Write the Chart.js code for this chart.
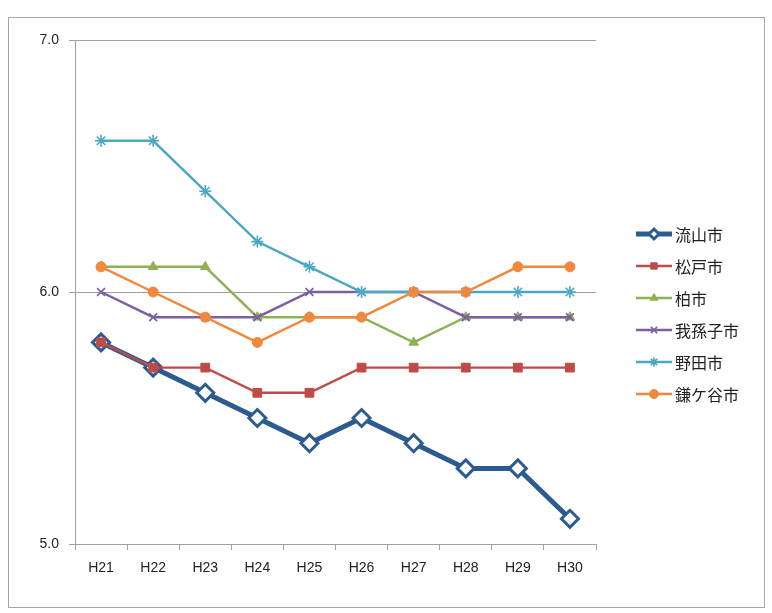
<!DOCTYPE html>
<html>
<head>
<meta charset="utf-8">
<script src="https://cdn.jsdelivr.net/npm/chart.js@4/dist/chart.umd.min.js"></script>
<style>
  html, body { margin: 0; padding: 0; background: #fff; }
  #wrap { width: 772px; height: 613px; }
</style>
</head>
<body>
<div id="wrap"><canvas id="cityChart" width="772" height="613"></canvas></div>
<script>
// Data
const years = ['H21', 'H22', 'H23', 'H24', 'H25', 'H26', 'H27', 'H28', 'H29', 'H30'];
const cityNames = ['流山市', '松戸市', '柏市', '我孫子市', '野田市', '鎌ケ谷市'];
const nagareyama = [5.8, 5.7, 5.6, 5.5, 5.4, 5.5, 5.4, 5.3, 5.3, 5.1];
const matsudo    = [5.8, 5.7, 5.7, 5.6, 5.6, 5.7, 5.7, 5.7, 5.7, 5.7];
const kashiwa    = [6.1, 6.1, 6.1, 5.9, 5.9, 5.9, 5.8, 5.9, 5.9, 5.9];
const abiko      = [6.0, 5.9, 5.9, 5.9, 6.0, 6.0, 6.0, 5.9, 5.9, 5.9];
const noda       = [6.6, 6.6, 6.4, 6.2, 6.1, 6.0, 6.0, 6.0, 6.0, 6.0];
const kamagaya   = [6.1, 6.0, 5.9, 5.8, 5.9, 5.9, 6.0, 6.0, 6.1, 6.1];
const yTicks = [5.0, 6.0, 7.0];

const seriesValues = [nagareyama, matsudo, kashiwa, abiko, noda, kamagaya];
const colors = ['#2b5b8f', '#be4b48', '#8db255', '#7d60a0', '#4aa8c2', '#f0883e'];
const styles = [
    { pointStyle: 'rectRot', radius: 8.5, lineWidth: 5, pointBorder: 3, fill: '#ffffff' },
    { pointStyle: 'rect', radius: 6.2, lineWidth: 2.4, pointBorder: 1 },
    { pointStyle: 'triangle', radius: 5.5, lineWidth: 2.4, pointBorder: 1 },
    { pointStyle: 'crossRot', radius: 5.5, lineWidth: 2.4, pointBorder: 1.6 },
    { pointStyle: 'star', radius: 6, lineWidth: 2.4, pointBorder: 1.6 },
    { pointStyle: 'circle', radius: 5, lineWidth: 2.4, pointBorder: 1 }
];

const datasets = cityNames.map((name, i) => ({
    label: name,
    data: seriesValues[i],
    borderColor: colors[i],
    backgroundColor: styles[i].fill || colors[i],
    borderWidth: styles[i].lineWidth,
    pointStyle: styles[i].pointStyle,
    pointRadius: styles[i].radius,
    pointHoverRadius: styles[i].radius,
    pointBorderWidth: styles[i].pointBorder,
    pointBorderColor: colors[i],
    pointBackgroundColor: styles[i].fill || colors[i],
    tension: 0,
    order: cityNames.length - 1 - i
}));

// white background + outer frame
const framePlugin = {
    id: 'frame',
    beforeDraw(chart) {
        const c = chart.ctx;
        c.save();
        c.fillStyle = '#ffffff';
        c.fillRect(0, 0, chart.width, chart.height);
        c.strokeStyle = '#a6a6a6';
        c.lineWidth = 1;
        c.strokeRect(8.5, 17.5, 756, 590);
        c.restore();
    }
};

// legend with line + marker like the original
const legendPlugin = {
    id: 'lineLegend',
    afterDraw(chart) {
        const c = chart.ctx;
        const x0 = 636, x1 = 672, top = 234, step = 32;
        c.save();
        cityNames.forEach((name, i) => {
            const y = top + i * step;
            c.strokeStyle = colors[i];
            c.lineWidth = styles[i].lineWidth;
            c.beginPath();
            c.moveTo(x0, y);
            c.lineTo(x1, y);
            c.stroke();
            c.fillStyle = styles[i].fill || colors[i];
            c.strokeStyle = colors[i];
            c.lineWidth = styles[i].pointBorder;
            Chart.helpers.drawPoint(c, {
                pointStyle: styles[i].pointStyle,
                radius: i === 0 ? 5 : 4.5,
                borderWidth: i === 0 ? 2.5 : styles[i].pointBorder,
                rotation: 0
            }, (x0 + x1) / 2, y);
            c.fillStyle = '#222';
            c.font = '16px "Noto Sans CJK JP"';
            c.textBaseline = 'middle';
            c.fillText(name, x1 + 3, y + 1);
        });
        c.restore();
    }
};

const ctx = document.getElementById('cityChart').getContext('2d');
const cityChart = new Chart(ctx, {
    type: 'line',
    data: { labels: years, datasets: datasets },
    options: {
        responsive: false,
        animation: false,
        layout: { padding: { top: 40, right: 176, left: 0, bottom: 0 } },
        plugins: {
            legend: { display: false },
            tooltip: { enabled: false }
        },
        scales: {
            x: {
                offset: true,
                grid: { offset: true, drawOnChartArea: false, tickLength: 6, color: '#a0a0a0' },
                border: { color: '#a0a0a0' },
                ticks: { color: '#222', padding: 10, font: { family: 'Liberation Sans', size: 14 } },
                afterFit(scale) { scale.height = 69; }
            },
            y: {
                min: 5,
                max: 7,
                afterBuildTicks(scale) { scale.ticks = yTicks.map(v => ({ value: v })); },
                grid: { tickLength: 6, color: '#a0a0a0' },
                border: { color: '#a0a0a0' },
                ticks: {
                    color: '#222',
                    padding: 10,
                    font: { family: 'Liberation Sans', size: 14 },
                    callback: v => v.toFixed(1)
                },
                afterFit(scale) { scale.width = 75; }
            }
        }
    },
    plugins: [framePlugin, legendPlugin]
});
</script>
</body>
</html>
